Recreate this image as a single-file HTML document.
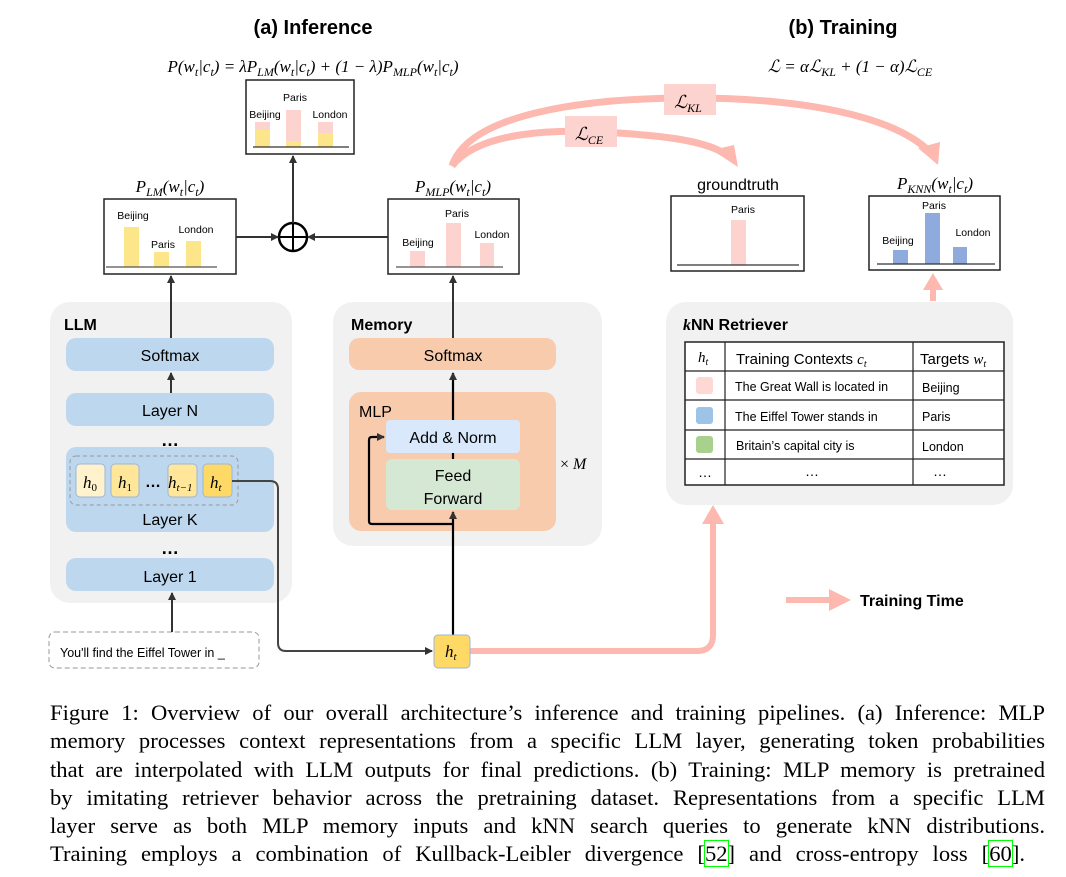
<!DOCTYPE html>
<html><head><meta charset="utf-8"><style>
body{margin:0;background:#fff;width:1066px;height:877px;overflow:hidden}
svg{position:absolute;left:0;top:0}
.s{font-family:"Liberation Sans",sans-serif}
.m{font-family:"Liberation Serif",serif;font-style:italic}
#cap{position:absolute;left:50px;top:699px;width:995px;font-family:"Liberation Serif",serif;font-size:22.6px;line-height:28.3px;color:#000}
#cap div{text-align:justify;text-align-last:justify;white-space:nowrap}
#cap div.l{width:975px}
#cap b{font-weight:normal;outline:1px solid #0f0}
</style></head><body>
<svg width="1066" height="877" viewBox="0 0 1066 877">
<defs>
<marker id="a" markerWidth="8" markerHeight="8" refX="7" refY="4" orient="auto" markerUnits="userSpaceOnUse"><path d="M0,0 L8,4 L0,8z" fill="#333"/></marker>
</defs>
<g class="s" font-weight="bold" font-size="20" text-anchor="middle"><text x="313" y="34">(a) Inference</text><text x="843" y="34">(b) Training</text></g>
<g class="m" font-size="17" text-anchor="middle"><text x="313" y="72">P(w<tspan font-size="12" dy="4">t</tspan><tspan dy="-4">|c</tspan><tspan font-size="12" dy="4">t</tspan><tspan dy="-4">) = λP</tspan><tspan font-size="12" dy="4">LM</tspan><tspan dy="-4">(w</tspan><tspan font-size="12" dy="4">t</tspan><tspan dy="-4">|c</tspan><tspan font-size="12" dy="4">t</tspan><tspan dy="-4">) + (1 − λ)P</tspan><tspan font-size="12" dy="4">MLP</tspan><tspan dy="-4">(w</tspan><tspan font-size="12" dy="4">t</tspan><tspan dy="-4">|c</tspan><tspan font-size="12" dy="4">t</tspan><tspan dy="-4">)</tspan></text>
<text x="850" y="72">ℒ = αℒ<tspan font-size="12" dy="4">KL</tspan><tspan dy="-4"> + (1 − α)ℒ</tspan><tspan font-size="12" dy="4">CE</tspan></text>
<text x="170" y="192">P<tspan font-size="12" dy="4">LM</tspan><tspan dy="-4">(w</tspan><tspan font-size="12" dy="4">t</tspan><tspan dy="-4">|c</tspan><tspan font-size="12" dy="4">t</tspan><tspan dy="-4">)</tspan></text>
<text x="453" y="192">P<tspan font-size="12" dy="4">MLP</tspan><tspan dy="-4">(w</tspan><tspan font-size="12" dy="4">t</tspan><tspan dy="-4">|c</tspan><tspan font-size="12" dy="4">t</tspan><tspan dy="-4">)</tspan></text>
<text x="935" y="189">P<tspan font-size="12" dy="4">KNN</tspan><tspan dy="-4">(w</tspan><tspan font-size="12" dy="4">t</tspan><tspan dy="-4">|c</tspan><tspan font-size="12" dy="4">t</tspan><tspan dy="-4">)</tspan></text>
</g>
<text class="s" x="738" y="190" font-size="16" text-anchor="middle">groundtruth</text>
<g fill="none" stroke="#fdb8b0" stroke-width="7">
<path d="M452,166 C470,110 600,98 690,98 C800,98 890,115 928,150"/>
<path d="M452,166 C480,130 560,130 600,132 C660,135 700,140 722,152"/>
</g>
<path d="M918,148 L940,142 L938,165z" fill="#fdb8b0"/>
<path d="M712,150 L734,145 L738,167z" fill="#fdb8b0"/>
<rect x="664" y="84" width="52" height="31" fill="#fdd3cf"/>
<rect x="565" y="116" width="52" height="31" fill="#fdd3cf"/>
<g class="m" font-size="18" text-anchor="middle"><text x="688" y="108">ℒ<tspan font-size="12" dy="4">KL</tspan></text><text x="589" y="140">ℒ<tspan font-size="12" dy="4">CE</tspan></text></g>
<rect x="246" y="80" width="108" height="74" fill="#fff" stroke="#222" stroke-width="1.5"/>
<rect x="255" y="122" width="15" height="8" fill="#fcd3cf"/><rect x="255" y="130" width="15" height="17" fill="#fde68a"/>
<rect x="286" y="110" width="15" height="31" fill="#fcd3cf"/><rect x="286" y="141" width="15" height="6" fill="#fde68a"/>
<rect x="318" y="122" width="15" height="11" fill="#fcd3cf"/><rect x="318" y="133" width="15" height="14" fill="#fde68a"/>
<line x1="253" y1="147" x2="349" y2="147" stroke="#333" stroke-width="1.2"/>
<g class="s" font-size="10.5" text-anchor="middle"><text x="265" y="118">Beijing</text><text x="295" y="101">Paris</text><text x="330" y="118">London</text></g>
<rect x="104" y="199" width="132" height="75" fill="#fff" stroke="#222" stroke-width="1.5"/>
<rect x="124" y="227" width="15" height="40" fill="#fde68a"/><rect x="154" y="252" width="15" height="15" fill="#fde68a"/><rect x="186" y="241" width="15" height="26" fill="#fde68a"/>
<line x1="106" y1="267" x2="217" y2="267" stroke="#555" stroke-width="1.2"/>
<g class="s" font-size="10.5" text-anchor="middle"><text x="133" y="219">Beijing</text><text x="163" y="248">Paris</text><text x="196" y="233">London</text></g>
<rect x="388" y="199" width="131" height="75" fill="#fff" stroke="#222" stroke-width="1.5"/>
<rect x="410" y="251" width="15" height="16" fill="#fcd3cf"/><rect x="446" y="223" width="15" height="44" fill="#fcd3cf"/><rect x="480" y="243" width="14" height="24" fill="#fcd3cf"/>
<line x1="396" y1="267" x2="503" y2="267" stroke="#555" stroke-width="1.2"/>
<g class="s" font-size="10.5" text-anchor="middle"><text x="418" y="246">Beijing</text><text x="457" y="217">Paris</text><text x="492" y="238">London</text></g>
<rect x="671" y="196" width="133" height="75" fill="#fff" stroke="#222" stroke-width="1.5"/>
<rect x="731" y="220" width="15" height="45" fill="#fcd3cf"/>
<line x1="677" y1="265" x2="799" y2="265" stroke="#333" stroke-width="1.2"/>
<text class="s" x="743" y="213" font-size="10.5" text-anchor="middle">Paris</text>
<rect x="869" y="196" width="131" height="74" fill="#fff" stroke="#222" stroke-width="1.5"/>
<rect x="893" y="250" width="15" height="14" fill="#8faadc"/><rect x="925" y="213" width="15" height="51" fill="#8faadc"/><rect x="953" y="247" width="14" height="17" fill="#8faadc"/>
<line x1="877" y1="264" x2="995" y2="264" stroke="#333" stroke-width="1.2"/>
<g class="s" font-size="10.5" text-anchor="middle"><text x="898" y="244">Beijing</text><text x="934" y="209">Paris</text><text x="973" y="236">London</text></g>
<circle cx="293" cy="237" r="14" fill="#fff" stroke="#000" stroke-width="2.5"/>
<line x1="279" y1="237" x2="307" y2="237" stroke="#000" stroke-width="2"/><line x1="293" y1="223" x2="293" y2="251" stroke="#000" stroke-width="2"/>
<rect x="50" y="302" width="242" height="301" rx="20" fill="#f1f1f1"/>
<text class="s" x="64" y="330" font-size="16" font-weight="bold">LLM</text>
<g fill="#bdd7ee"><rect x="66" y="338" width="208" height="33" rx="10"/><rect x="66" y="393" width="208" height="33" rx="10"/><rect x="66" y="447" width="208" height="85" rx="10"/><rect x="66" y="558" width="208" height="33" rx="10"/></g>
<g class="s" font-size="16" text-anchor="middle"><text x="170" y="361">Softmax</text><text x="170" y="416">Layer N</text><text x="170" y="525">Layer K</text><text x="170" y="582">Layer 1</text></g>
<g class="s" font-size="18" font-weight="bold" text-anchor="middle"><text x="170" y="446">…</text><text x="170" y="554">…</text></g>
<rect x="70" y="456" width="168" height="49" rx="6" fill="none" stroke="#999" stroke-dasharray="4,3"/>
<g stroke="#9db5d9" stroke-width="1"><rect x="76" y="464" width="29" height="33" rx="4" fill="#fff2cc"/><rect x="111" y="464" width="28" height="33" rx="4" fill="#ffe699"/><rect x="168" y="464" width="29" height="33" rx="4" fill="#ffe699"/><rect x="203" y="464" width="29" height="33" rx="4" fill="#ffd966"/></g>
<g class="m" font-size="17"><text x="83" y="488">h<tspan font-size="11" font-style="normal" dy="3">0</tspan></text><text x="118" y="488">h<tspan font-size="11" font-style="normal" dy="3">1</tspan></text><text x="168" y="488">h<tspan font-size="11" dy="3">t−1</tspan></text><text x="210" y="488">h<tspan font-size="11" dy="3">t</tspan></text></g>
<text class="s" x="153" y="487" font-size="16" font-weight="bold" text-anchor="middle">…</text>
<rect x="49" y="632" width="210" height="36" rx="6" fill="#fff" stroke="#999" stroke-dasharray="5,3"/>
<text class="s" x="60" y="657" font-size="12.5">You'll find the Eiffel Tower in _</text>
<rect x="333" y="302" width="269" height="244" rx="20" fill="#f1f1f1"/>
<text class="s" x="351" y="330" font-size="16" font-weight="bold">Memory</text>
<rect x="349" y="338" width="207" height="32" rx="10" fill="#f8cbad"/>
<rect x="349" y="392" width="207" height="139" rx="12" fill="#f8cbad"/>
<rect x="386" y="420" width="134" height="33" rx="4" fill="#dae8fc"/>
<rect x="386" y="459" width="134" height="51" rx="6" fill="#d5e8d4"/>
<g class="s" font-size="16" text-anchor="middle"><text x="453" y="443">Add &amp; Norm</text><text x="453" y="481">Feed</text><text x="453" y="504">Forward</text><text x="453" y="361">Softmax</text></g>
<text class="s" x="359" y="417" font-size="16">MLP</text>
<text class="m" x="560" y="469" font-size="16"><tspan font-style="normal">× </tspan>M</text>
<g stroke="#333" stroke-width="2" fill="none" marker-end="url(#a)">
<line x1="236" y1="237" x2="278" y2="237"/><line x1="388" y1="237" x2="308" y2="237"/>
<line x1="293" y1="223" x2="293" y2="156"/>
<line x1="171" y1="338" x2="171" y2="276"/><line x1="453" y1="338" x2="453" y2="276"/>
<line x1="171" y1="393" x2="171" y2="373"/>
<line x1="172" y1="632" x2="172" y2="593"/>
</g>
<g stroke="#000" stroke-width="2.2" fill="none">
<line x1="453" y1="635" x2="453" y2="512" marker-end="url(#a)"/>
<line x1="453" y1="420" x2="453" y2="373" marker-end="url(#a)"/>
<path d="M453,524 L372,524 Q369,524 369,521 L369,440 Q369,437 372,437 L384,437" marker-end="url(#a)"/>
<line x1="453" y1="453" x2="453" y2="459"/>
</g>
<path d="M232,481 L270,481 Q278,481 278,489 L278,643 Q278,651 286,651 L432,651" stroke="#444" stroke-width="2" fill="none" marker-end="url(#a)"/>
<path d="M470,651 L697,651 Q713,651 713,635 L713,520" stroke="#fdb8b0" stroke-width="6" fill="none"/>
<path d="M702,524 L713,505 L724,524z" fill="#fdb8b0"/>
<rect x="434" y="635" width="36" height="33" rx="4" fill="#ffd966" stroke="#9db5d9"/>
<text class="m" x="445" y="657" font-size="17">h<tspan font-size="11" dy="3">t</tspan></text>
<rect x="666" y="302" width="347" height="203" rx="20" fill="#f1f1f1"/>
<line x1="933" y1="301" x2="933" y2="285" stroke="#fdb8b0" stroke-width="6"/>
<path d="M923,290 L933,273 L943,290z" fill="#fdb8b0"/>
<text class="s" x="683" y="330" font-size="16" font-weight="bold"><tspan class="m">k</tspan>NN Retriever</text>
<rect x="685" y="342" width="319" height="143" fill="#fff" stroke="#222" stroke-width="1.5"/>
<g stroke="#222" stroke-width="1.2"><line x1="725" y1="342" x2="725" y2="485"/><line x1="913" y1="342" x2="913" y2="485"/><line x1="685" y1="371" x2="1004" y2="371"/><line x1="685" y1="400" x2="1004" y2="400"/><line x1="685" y1="430" x2="1004" y2="430"/><line x1="685" y1="459" x2="1004" y2="459"/></g>
<rect x="696" y="377" width="17" height="17" rx="3" fill="#fdd8d4"/><rect x="696" y="407" width="17" height="17" rx="3" fill="#9dc3e6"/><rect x="696" y="436" width="17" height="17" rx="3" fill="#a9d18e"/>
<text class="m" x="698" y="362" font-size="15">h<tspan font-size="10" dy="3">t</tspan></text>
<g class="s" font-size="15"><text x="736" y="364">Training Contexts <tspan class="m">c</tspan><tspan class="m" font-size="10" dy="3">t</tspan></text><text x="920" y="364">Targets <tspan class="m">w</tspan><tspan class="m" font-size="10" dy="3">t</tspan></text></g>
<g class="s" font-size="12.5"><text x="735" y="391">The Great Wall is located in</text><text x="922" y="392">Beijing</text><text x="735" y="421">The Eiffel Tower stands in</text><text x="922" y="421">Paris</text><text x="736" y="450">Britain’s capital city is</text><text x="922" y="451">London</text></g>
<g class="s" font-size="14" text-anchor="middle"><text x="705" y="477">…</text><text x="812" y="476">…</text><text x="940" y="476">…</text></g>
<line x1="786" y1="600" x2="830" y2="600" stroke="#fdb8b0" stroke-width="6"/>
<path d="M829,589 L851,600 L829,611z" fill="#fdb8b0"/>
<text class="s" x="860" y="606" font-size="16" font-weight="bold">Training Time</text>
</svg>
<div id="cap">
<div>Figure 1: Overview of our overall architecture’s inference and training pipelines. (a) Inference: MLP</div>
<div>memory processes context representations from a specific LLM layer, generating token probabilities</div>
<div>that are interpolated with LLM outputs for final predictions. (b) Training: MLP memory is pretrained</div>
<div>by imitating retriever behavior across the pretraining dataset. Representations from a specific LLM</div>
<div>layer serve as both MLP memory inputs and kNN search queries to generate kNN distributions.</div>
<div class="l">Training employs a combination of Kullback-Leibler divergence [<b>52</b>] and cross-entropy loss [<b>60</b>].</div>
</div>
</body></html>
